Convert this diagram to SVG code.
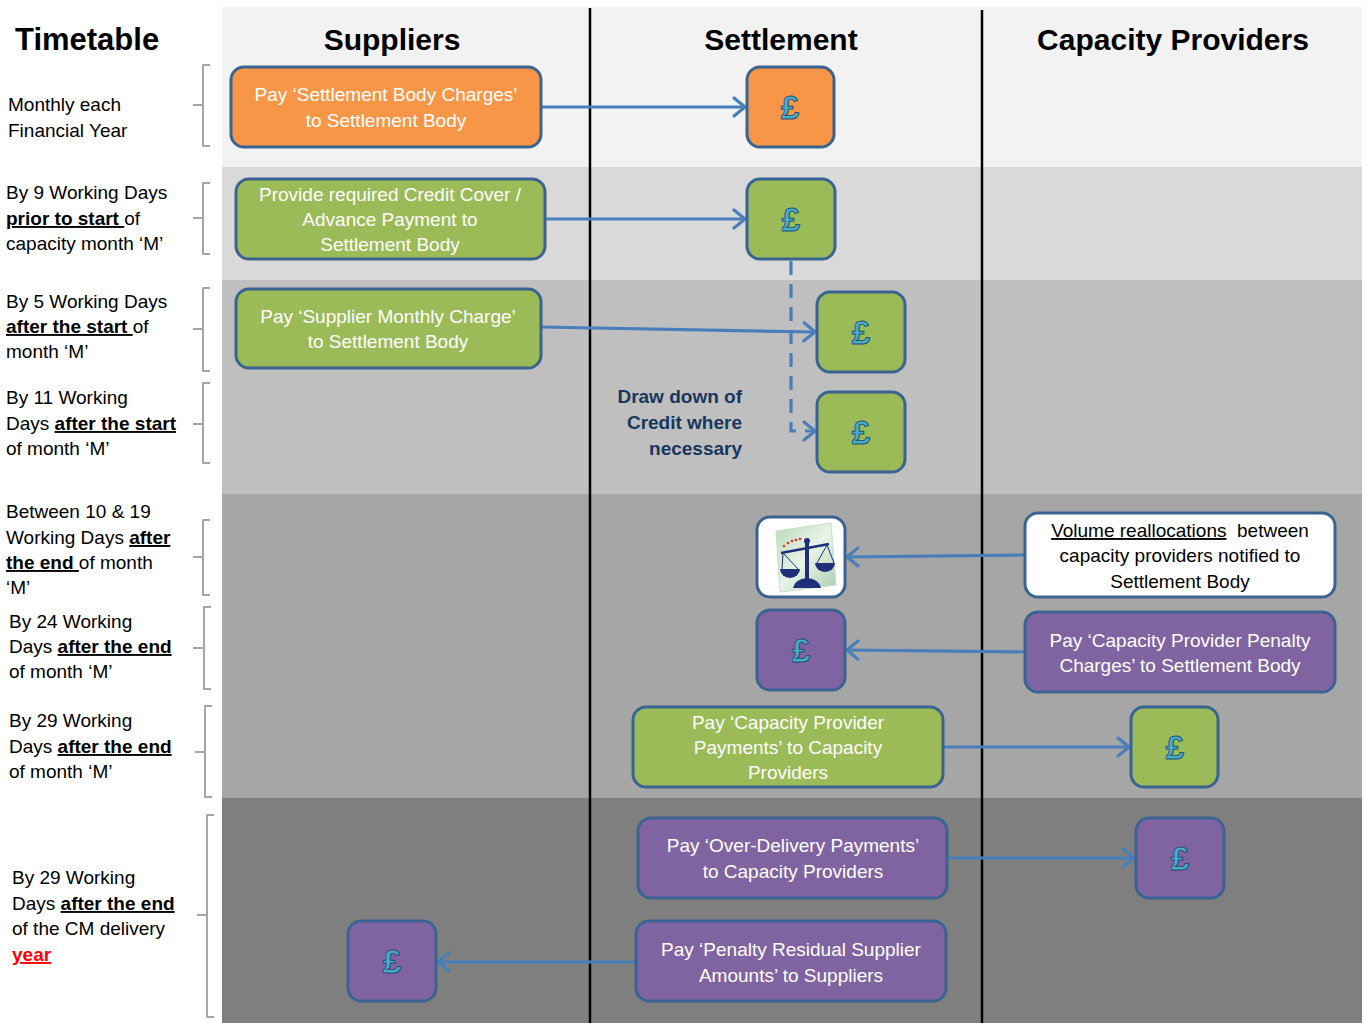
<svg xmlns="http://www.w3.org/2000/svg" width="1365" height="1023" viewBox="0 0 1365 1023">
<defs>
<style>
.hdr{font-family:"Liberation Sans",Arial,sans-serif;font-weight:bold;font-size:30px;fill:#000}
.lbl{font-family:"Liberation Sans",Arial,sans-serif;font-size:19px;fill:#000}
.b{font-weight:bold}
.u{text-decoration:underline}
.red{fill:#ff0000;font-weight:bold;text-decoration:underline}
.bt{font-family:"Liberation Sans",Arial,sans-serif;font-size:19px;fill:#ffffff;text-anchor:middle}
.bk{font-family:"Liberation Sans",Arial,sans-serif;font-size:19px;fill:#000;text-anchor:middle}
.dd{font-family:"Liberation Sans",Arial,sans-serif;font-size:19px;font-weight:bold;fill:#17375e;text-anchor:end}
.box{stroke:#3b6392;stroke-width:3}
.or{fill:#f79646}
.gr{fill:#9bbb59}
.pu{fill:#8064a2}
.wh{fill:#ffffff}
.gbp{font-family:"Liberation Sans",Arial,sans-serif;font-weight:bold;font-size:33px;fill:#4bacc6;stroke:#1f4e79;stroke-width:0.9;text-anchor:middle}
.br{fill:none;stroke:#a6a6a6;stroke-width:2;stroke-linejoin:round}
.conn{fill:none;stroke:#4a7ebb;stroke-width:3.2}
.dash{stroke-dasharray:14 9}
.sep{stroke:#000;stroke-width:2.5}
</style>
<marker id="arr" markerUnits="userSpaceOnUse" markerWidth="20" markerHeight="24" refX="12" refY="10" orient="auto" overflow="visible">
<path d="M1,1 L12,10 L1,19" fill="none" stroke="#4a7ebb" stroke-width="3.2" stroke-linecap="round" stroke-linejoin="round"/>
</marker>
<linearGradient id="sheet" x1="0" y1="0" x2="1" y2="1">
<stop offset="0" stop-color="#b9d8b9"/>
<stop offset="0.5" stop-color="#e8f4e8"/>
<stop offset="1" stop-color="#a9ceb0"/>
</linearGradient>
</defs>

<g id="background">
<rect x="222" y="7" width="1140" height="160" fill="#f2f2f2"/>
<rect x="222" y="167" width="1140" height="113" fill="#d9d9d9"/>
<rect x="222" y="280" width="1140" height="214" fill="#bfbfbf"/>
<rect x="222" y="494" width="1140" height="304" fill="#a6a6a6"/>
<rect x="222" y="798" width="1140" height="225" fill="#7f7f7f"/>
<line class="sep" x1="590" y1="8" x2="590" y2="1023"/>
<line class="sep" x1="982" y1="10" x2="982" y2="1023"/>
</g>

<g id="headers">
<text class="hdr" x="15" y="50" style="font-size:31px">Timetable</text>
<text class="hdr" x="392" y="50" text-anchor="middle">Suppliers</text>
<text class="hdr" x="781" y="50" text-anchor="middle">Settlement</text>
<text class="hdr" x="1173" y="50" text-anchor="middle">Capacity Providers</text>
</g>

<g id="timetable-brackets">
<path class="br" d="M210,65 H203 V146 H210 M203,105 H193"/>
<path class="br" d="M210,183 H203 V254 H210 M203,218 H193"/>
<path class="br" d="M210,288 H203 V371 H210 M203,329 H193"/>
<path class="br" d="M210,383 H203 V463 H210 M203,424 H193"/>
<path class="br" d="M210,520 H203 V595 H210 M203,557 H193"/>
<path class="br" d="M211,607 H204 V689 H211 M204,648 H193"/>
<path class="br" d="M212,706 H205 V797 H212 M205,752 H195"/>
<path class="br" d="M214,815 H207 V1017 H214 M207,915 H197"/>
</g>

<g id="timetable-labels">
<text class="lbl" x="8" y="111">Monthly each</text>
<text class="lbl" x="8" y="137">Financial Year</text>

<text class="lbl" x="6" y="199">By 9 Working Days</text>
<text class="lbl" x="6" y="225"><tspan class="b u">prior to start </tspan>of</text>
<text class="lbl" x="6" y="250">capacity month ‘M’</text>

<text class="lbl" x="6" y="308">By 5 Working Days</text>
<text class="lbl" x="6" y="333"><tspan class="b u">after the start </tspan>of</text>
<text class="lbl" x="6" y="358">month ‘M’</text>

<text class="lbl" x="6" y="404">By 11 Working</text>
<text class="lbl" x="6" y="430">Days <tspan class="b u">after the start</tspan></text>
<text class="lbl" x="6" y="455">of month ‘M’</text>

<text class="lbl" x="6" y="518">Between 10 &amp; 19</text>
<text class="lbl" x="6" y="544">Working Days <tspan class="b u">after</tspan></text>
<text class="lbl" x="6" y="569"><tspan class="b u">the end </tspan>of month</text>
<text class="lbl" x="6" y="594">‘M’</text>

<text class="lbl" x="9" y="628">By 24 Working</text>
<text class="lbl" x="9" y="653">Days <tspan class="b u">after the end</tspan></text>
<text class="lbl" x="9" y="678">of month ‘M’</text>

<text class="lbl" x="9" y="727">By 29 Working</text>
<text class="lbl" x="9" y="753">Days <tspan class="b u">after the end</tspan></text>
<text class="lbl" x="9" y="778">of month ‘M’</text>

<text class="lbl" x="12" y="884">By 29 Working</text>
<text class="lbl" x="12" y="910">Days <tspan class="b u">after the end</tspan></text>
<text class="lbl" x="12" y="935">of the CM delivery</text>
<text class="lbl" x="12" y="961"><tspan class="red">year</tspan></text>
</g>

<g id="connectors">
<line class="conn" x1="541" y1="107" x2="745" y2="107" marker-end="url(#arr)"/>
<line class="conn" x1="545" y1="219" x2="745" y2="219" marker-end="url(#arr)"/>
<line class="conn" x1="541" y1="327" x2="815" y2="332" marker-end="url(#arr)"/>
<path class="conn dash" d="M791,261 V431 H815" marker-end="url(#arr)"/>
<line class="conn" x1="1025" y1="555" x2="847" y2="557" marker-end="url(#arr)"/>
<line class="conn" x1="1025" y1="652" x2="847" y2="650" marker-end="url(#arr)"/>
<line class="conn" x1="943" y1="747" x2="1129" y2="747" marker-end="url(#arr)"/>
<line class="conn" x1="947" y1="858" x2="1134" y2="858" marker-end="url(#arr)"/>
<line class="conn" x1="636" y1="962" x2="438" y2="962" marker-end="url(#arr)"/>
</g>

<g id="sup-sbcharges">
<rect class="box or" x="231" y="67" width="310" height="80" rx="13"/>
<text class="bt" x="386" y="101">Pay ‘Settlement Body Charges’</text>
<text class="bt" x="386" y="127">to Settlement Body</text>
</g>
<g id="set-sbcharges">
<rect class="box or" x="747" y="67" width="87" height="80" rx="13"/>
<text class="gbp" x="790" y="119">£</text>
</g>

<g id="sup-creditcover">
<rect class="box gr" x="236" y="179" width="309" height="80" rx="13"/>
<text class="bt" x="390" y="201">Provide required Credit Cover /</text>
<text class="bt" x="390" y="226">Advance Payment to</text>
<text class="bt" x="390" y="251">Settlement Body</text>
</g>
<g id="set-creditcover">
<rect class="box gr" x="747" y="179" width="88" height="80" rx="13"/>
<text class="gbp" x="791" y="231">£</text>
</g>

<g id="sup-monthlycharge">
<rect class="box gr" x="236" y="289" width="305" height="79" rx="13"/>
<text class="bt" x="388" y="323">Pay ‘Supplier Monthly Charge’</text>
<text class="bt" x="388" y="348">to Settlement Body</text>
</g>
<g id="set-monthlycharge">
<rect class="box gr" x="817" y="292" width="88" height="80" rx="13"/>
<text class="gbp" x="861" y="344">£</text>
</g>

<g id="set-drawdown">
<rect class="box gr" x="817" y="392" width="88" height="80" rx="13"/>
<text class="gbp" x="861" y="444">£</text>
</g>
<g id="drawdown-label">
<text class="dd" x="742" y="403">Draw down of</text>
<text class="dd" x="742" y="429">Credit where</text>
<text class="dd" x="742" y="455">necessary</text>
</g>

<g id="set-volume">
<rect class="box wh" x="757" y="517" width="88" height="80" rx="13"/>
<polygon points="776,531 831,523 836,585 780,592" fill="url(#sheet)" stroke="#c9dfc9" stroke-width="1"/>
<g fill="#1f2f7a" stroke="#1f2f7a">
<circle cx="807" cy="541" r="3" stroke="none"/>
<rect x="805" y="541" width="4" height="39" stroke="none"/>
<line x1="781" y1="553" x2="829" y2="544" stroke-width="2.5"/>
<line x1="783" y1="553" x2="782" y2="569" stroke-width="1"/>
<line x1="783" y1="553" x2="798" y2="569" stroke-width="1"/>
<line x1="827" y1="545" x2="817" y2="563" stroke-width="1"/>
<line x1="827" y1="545" x2="834" y2="563" stroke-width="1"/>
<path d="M780,569 H800 A10,9 0 0 1 780,569 Z" stroke="none"/>
<path d="M815,563 H835 A10,9 0 0 1 815,563 Z" stroke="none"/>
<path d="M793,588 Q795,579 807,578 Q819,579 821,588 Z" stroke="none"/>
</g>
<g fill="#e0302a">
<circle cx="784" cy="546" r="1.3"/>
<circle cx="788" cy="543" r="1.3"/>
<circle cx="792" cy="541" r="1.3"/>
<circle cx="796" cy="540" r="1.3"/>
<circle cx="800" cy="539" r="1.3"/>
</g>
</g>
<g id="cp-volume">
<rect class="box wh" x="1025" y="513" width="310" height="84" rx="13"/>
<text class="bk" x="1180" y="537"><tspan class="u">Volume reallocations</tspan>&#160; between</text>
<text class="bk" x="1180" y="562">capacity providers notified to</text>
<text class="bk" x="1180" y="588">Settlement Body</text>
</g>

<g id="set-penalty">
<rect class="box pu" x="757" y="610" width="88" height="80" rx="13"/>
<text class="gbp" x="801" y="662">£</text>
</g>
<g id="cp-penalty">
<rect class="box pu" x="1025" y="612" width="310" height="80" rx="13"/>
<text class="bt" x="1180" y="647">Pay ‘Capacity Provider Penalty</text>
<text class="bt" x="1180" y="672">Charges’ to Settlement Body</text>
</g>

<g id="set-cppayments">
<rect class="box gr" x="633" y="707" width="310" height="80" rx="13"/>
<text class="bt" x="788" y="729">Pay ‘Capacity Provider</text>
<text class="bt" x="788" y="754">Payments’ to Capacity</text>
<text class="bt" x="788" y="779">Providers</text>
</g>
<g id="cp-cppayments">
<rect class="box gr" x="1131" y="707" width="87" height="80" rx="13"/>
<text class="gbp" x="1175" y="759">£</text>
</g>

<g id="set-overdelivery">
<rect class="box pu" x="638" y="818" width="309" height="80" rx="13"/>
<text class="bt" x="793" y="852">Pay ‘Over-Delivery Payments’</text>
<text class="bt" x="793" y="878">to Capacity Providers</text>
</g>
<g id="cp-overdelivery">
<rect class="box pu" x="1136" y="818" width="88" height="80" rx="13"/>
<text class="gbp" x="1180" y="870">£</text>
</g>

<g id="set-residual">
<rect class="box pu" x="636" y="921" width="310" height="80" rx="13"/>
<text class="bt" x="791" y="956">Pay ‘Penalty Residual Supplier</text>
<text class="bt" x="791" y="982">Amounts’ to Suppliers</text>
</g>
<g id="sup-residual">
<rect class="box pu" x="348" y="921" width="88" height="80" rx="13"/>
<text class="gbp" x="392" y="973">£</text>
</g>
</svg>
